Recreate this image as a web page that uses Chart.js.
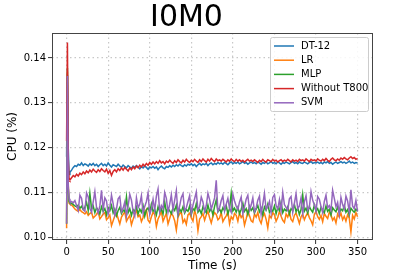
<!DOCTYPE html>
<html>
<head>
<meta charset="utf-8">
<script src="https://cdn.jsdelivr.net/npm/chart.js@4/dist/chart.umd.min.js"></script>
<style>
  html, body { margin: 0; padding: 0; background: #fff; }
  #wrap { width: 415px; height: 277px; }
</style>
</head>
<body>
<div id="wrap"><canvas id="cpuChart" width="415" height="277"></canvas></div>
<script>
// sample times: first five seconds every second, then every 2 s up to 350
const times = [0, 1, 2, 3, 4];
for (let t = 6; t <= 350; t += 2) times.push(t);

const xTicks = [0, 50, 100, 150, 200, 250, 300, 350];
const yTicks = [0.10, 0.11, 0.12, 0.13, 0.14];

const labels = ['DT-12', 'LR', 'MLP', 'Without T800', 'SVM'];
const colors = ['#1f77b4', '#ff7f0e', '#2ca02c', '#d62728', '#9467bd'];

const dt12 = [.1180,.1362,.1200,.1140,.1145,
  .1150,.1156,.1160,.1158,.1163,.1161,.1166,.1160,.1164,.1162,
  .1159,.1164,.1161,.1165,.1160,.1163,.1158,.1162,.1165,.1160,
  .1163,.1159,.1166,.1161,.1157,.1162,.1160,.1158,.1163,.1159,
  .1156,.1161,.1158,.1155,.1160,.1157,.1154,.1159,.1156,.1160,
  .1157,.1153,.1158,.1155,.1159,.1156,.1152,.1157,.1155,.1158,
  .1154,.1157,.1151,.1156,.1159,.1155,.1153,.1158,.1156,.1160,
  .1157,.1161,.1158,.1162,.1159,.1163,.1160,.1158,.1162,.1159,
  .1163,.1161,.1164,.1160,.1163,.1158,.1162,.1165,.1161,.1164,
  .1162,.1165,.1160,.1164,.1166,.1162,.1165,.1163,.1167,.1164,
  .1166,.1163,.1167,.1165,.1162,.1166,.1168,.1164,.1167,.1165,
  .1168,.1164,.1166,.1169,.1165,.1167,.1163,.1166,.1168,.1165,
  .1167,.1164,.1168,.1166,.1163,.1167,.1165,.1168,.1164,.1166,
  .1169,.1165,.1167,.1164,.1168,.1166,.1163,.1167,.1165,.1168,
  .1166,.1164,.1167,.1169,.1165,.1167,.1164,.1168,.1166,.1165,
  .1168,.1166,.1164,.1167,.1169,.1165,.1167,.1166,.1168,.1165,
  .1167,.1164,.1168,.1166,.1169,.1165,.1167,.1163,.1166,.1168,
  .1165,.1167,.1169,.1166,.1168,.1165,.1167,.1170,.1166,.1168,
  .1165,.1167,.1166];

const lr = [.1020,.1370,.1120,.1076,.1074,
  .1072,.1068,.1063,.1060,.1058,.1062,.1057,.1055,.1052,.1057,
  .1049,.1053,.1056,.1043,.1047,.1051,.1058,.1041,.1046,.1052,
  .1055,.1039,.1044,.1050,.1026,.1037,.1048,.1054,.1042,.1030,
  .1045,.1051,.1057,.1036,.1043,.1049,.1028,.1040,.1052,.1060,
  .1046,.1050,.1035,.1044,.1055,.1062,.1038,.1033,.1046,.1056,
  .1051,.1024,.1041,.1049,.1058,.1036,.1045,.1053,.1030,.1042,
  .1054,.1048,.1037,.1016,.1045,.1052,.1057,.1033,.1040,.1029,
  .1050,.1054,.1043,.1036,.1060,.1048,.1015,.1041,.1046,.1053,
  .1038,.1050,.1058,.1044,.1032,.1047,.1055,.1051,.1039,.1043,
  .1056,.1035,.1042,.1048,.1057,.1030,.1046,.1040,.1053,.1049,
  .1036,.1055,.1044,.1050,.1027,.1041,.1058,.1048,.1037,.1034,
  .1052,.1045,.1056,.1039,.1031,.1047,.1053,.1040,.1021,.1049,
  .1043,.1055,.1050,.1036,.1044,.1058,.1047,.1038,.1033,.1052,
  .1045,.1057,.1040,.1035,.1049,.1054,.1043,.1031,.1046,.1052,
  .1039,.1048,.1055,.1044,.1037,.1028,.1051,.1058,.1046,.1040,
  .1049,.1035,.1053,.1047,.1042,.1056,.1050,.1038,.1044,.1032,
  .1052,.1045,.1054,.1039,.1047,.1036,.1050,.1043,.1012,.1049,
  .1041,.1055,.1046];

const mlp = [.1030,.1378,.1110,.1080,.1077,
  .1076,.1073,.1070,.1068,.1072,.1065,.1069,.1062,.1067,.1078,
  .1060,.1098,.1064,.1070,.1055,.1066,.1061,.1052,.1068,.1058,
  .1064,.1050,.1066,.1059,.1071,.1054,.1063,.1048,.1060,.1067,
  .1053,.1061,.1057,.1090,.1055,.1064,.1049,.1062,.1058,.1068,
  .1052,.1063,.1056,.1070,.1047,.1061,.1066,.1055,.1074,.1058,
  .1062,.1050,.1068,.1057,.1063,.1052,.1079,.1056,.1065,.1059,
  .1053,.1066,.1060,.1072,.1049,.1063,.1057,.1068,.1054,.1062,
  .1058,.1070,.1051,.1064,.1060,.1075,.1056,.1062,.1053,.1068,
  .1061,.1055,.1072,.1058,.1064,.1050,.1069,.1083,.1057,.1063,
  .1055,.1066,.1060,.1071,.1052,.1064,.1098,.1059,.1065,.1056,
  .1067,.1053,.1062,.1076,.1058,.1064,.1051,.1069,.1060,.1066,
  .1054,.1063,.1071,.1057,.1065,.1050,.1068,.1061,.1074,.1056,
  .1062,.1058,.1070,.1053,.1066,.1060,.1078,.1055,.1063,.1059,
  .1068,.1052,.1064,.1060,.1073,.1057,.1066,.1051,.1062,.1095,
  .1058,.1065,.1054,.1069,.1061,.1056,.1072,.1059,.1064,.1053,
  .1067,.1060,.1055,.1070,.1058,.1063,.1050,.1066,.1061,.1057,
  .1068,.1054,.1063,.1059,.1071,.1056,.1062,.1049,.1065,.1060,
  .1056,.1063,.1058];

const withoutT800 = [.1215,.1435,.1175,.1132,.1128,
  .1133,.1138,.1135,.1141,.1137,.1143,.1140,.1146,.1142,.1148,
  .1144,.1150,.1146,.1152,.1148,.1145,.1151,.1147,.1153,.1149,
  .1146,.1152,.1143,.1149,.1138,.1147,.1151,.1146,.1153,.1149,
  .1155,.1150,.1156,.1152,.1148,.1155,.1151,.1157,.1153,.1159,
  .1155,.1161,.1157,.1163,.1159,.1165,.1161,.1167,.1163,.1168,
  .1164,.1169,.1165,.1171,.1166,.1169,.1164,.1170,.1167,.1172,
  .1168,.1165,.1171,.1167,.1173,.1169,.1166,.1172,.1168,.1174,
  .1170,.1167,.1172,.1169,.1174,.1170,.1167,.1173,.1169,.1175,
  .1171,.1168,.1174,.1170,.1176,.1172,.1169,.1175,.1171,.1173,
  .1170,.1174,.1171,.1168,.1173,.1170,.1175,.1171,.1169,.1174,
  .1170,.1173,.1169,.1172,.1168,.1171,.1174,.1170,.1172,.1169,
  .1173,.1170,.1167,.1172,.1169,.1174,.1170,.1168,.1173,.1171,
  .1169,.1174,.1170,.1172,.1168,.1171,.1173,.1169,.1172,.1170,
  .1174,.1171,.1168,.1173,.1170,.1172,.1169,.1174,.1171,.1173,
  .1170,.1175,.1172,.1169,.1174,.1171,.1173,.1170,.1175,.1172,
  .1170,.1174,.1171,.1176,.1172,.1169,.1174,.1177,.1173,.1171,
  .1175,.1172,.1177,.1174,.1178,.1175,.1173,.1177,.1180,.1176,
  .1178,.1174,.1176];

const svm = [.1030,.1360,.1115,.1086,.1080,
  .1080,.1077,.1082,.1071,.1060,.1094,.1087,.1062,.1058,.1099,
  .1090,.1064,.1056,.1079,.1102,.1067,.1054,.1070,.1105,.1061,
  .1088,.1081,.1052,.1066,.1094,.1075,.1049,.1063,.1086,.1091,
  .1057,.1065,.1079,.1048,.1070,.1096,.1083,.1058,.1047,.1088,
  .1066,.1074,.1093,.1054,.1069,.1080,.1099,.1051,.1063,.1085,
  .1060,.1092,.1108,.1057,.1071,.1064,.1100,.1087,.1056,.1074,
  .1095,.1061,.1083,.1104,.1052,.1070,.1089,.1097,.1058,.1066,
  .1080,.1093,.1054,.1072,.1086,.1101,.1061,.1068,.1090,.1079,
  .1057,.1071,.1098,.1084,.1063,.1075,.1088,.1127,.1058,.1066,
  .1082,.1093,.1059,.1074,.1087,.1065,.1056,.1096,.1081,.1070,
  .1062,.1079,.1090,.1053,.1068,.1085,.1094,.1060,.1072,.1088,
  .1057,.1066,.1083,.1092,.1051,.1074,.1098,.1062,.1069,.1080,
  .1055,.1089,.1095,.1071,.1063,.1084,.1058,.1100,.1073,.1067,
  .1060,.1086,.1091,.1056,.1076,.1097,.1064,.1070,.1088,.1053,
  .1079,.1093,.1061,.1067,.1102,.1083,.1072,.1058,.1091,.1085,
  .1069,.1055,.1080,.1094,.1066,.1071,.1060,.1105,.1087,.1068,
  .1078,.1052,.1089,.1073,.1063,.1092,.1081,.1057,.1106,.1070,
  .1064,.1082,.1058];

const seriesValues = [dt12, lr, mlp, withoutT800, svm];
// matplotlib draws later series on top
const drawOrder = [4, 3, 2, 1, 0];

const datasets = labels.map((name, i) => ({
  label: name,
  data: seriesValues[i].map((v, k) => ({ x: times[k], y: v })),
  borderColor: colors[i],
  backgroundColor: colors[i],
  borderWidth: 1.5,
  pointRadius: 0,
  tension: 0,
  order: drawOrder[i]
}));

const FONT = 'DejaVu Sans';

// frame round the plot area plus matplotlib style legend box
const framePlugin = {
  id: 'frame',
  afterDatasetsDraw(chart) {
    const { ctx, chartArea: a } = chart;
    ctx.save();
    // legend
    const lx = a.right - 103, ly = a.top + 4, lw = 98, lh = 74, row = 14.2;
    ctx.fillStyle = 'rgba(255,255,255,0.85)';
    ctx.strokeStyle = '#cccccc';
    ctx.lineWidth = 1;
    ctx.beginPath();
    ctx.roundRect(lx + 0.5, ly + 0.5, lw, lh, 2);
    ctx.fill();
    ctx.stroke();
    ctx.font = '10px ' + FONT;
    ctx.textBaseline = 'middle';
    chart.data.datasets.forEach((ds, i) => {
      const yy = ly + 9 + i * row;
      ctx.strokeStyle = ds.borderColor;
      ctx.lineWidth = 1.5;
      ctx.beginPath();
      ctx.moveTo(lx + 4, yy);
      ctx.lineTo(lx + 24, yy);
      ctx.stroke();
      ctx.fillStyle = '#000';
      ctx.fillText(ds.label, lx + 31, yy);
    });
    // frame
    ctx.strokeStyle = '#444';
    ctx.lineWidth = 1;
    ctx.strokeRect(Math.round(a.left) + 0.5, Math.round(a.top) + 0.5,
                   Math.round(a.right - a.left) - 1, Math.round(a.bottom - a.top) - 1);
    ctx.restore();
  }
};

const ctx = document.getElementById('cpuChart').getContext('2d');
const cpuChart = new Chart(ctx, {
  type: 'line',
  data: { datasets: datasets },
  options: {
    responsive: false,
    animation: false,
    layout: { padding: { left: 0, right: 42, top: 0, bottom: 0 } },
    plugins: {
      legend: { display: false },
      tooltip: { enabled: false },
      title: {
        display: true,
        text: 'I0M0',
        color: '#000',
        font: { family: FONT, size: 30, weight: 'normal', lineHeight: 1.0 },
        padding: { top: 3, bottom: 0 }
      }
    },
    scales: {
      x: {
        type: 'linear',
        min: -17.55,
        max: 368.55,
        afterFit(scale) { scale.height = 37; },
        afterBuildTicks(scale) { scale.ticks = xTicks.map(v => ({ value: v })); },
        grid: {
          color: '#c8c8c8',
          lineWidth: 1.2,
          drawTicks: true,
          tickLength: 4,
          tickColor: '#333',
          tickWidth: 1,
          tickBorderDash: []
        },
        border: { display: false, dash: [1.5, 3] },
        ticks: {
          color: '#000',
          font: { family: FONT, size: 10 },
          padding: 2,
          maxRotation: 0,
          callback: v => String(v)
        },
        title: {
          display: true,
          text: 'Time (s)',
          color: '#000',
          font: { family: FONT, size: 12 },
          padding: { top: 0, bottom: 4 }
        }
      },
      y: {
        min: 0.0994,
        max: 0.1456,
        afterFit(scale) { scale.width = 52; },
        afterBuildTicks(scale) { scale.ticks = yTicks.map(v => ({ value: v })); },
        grid: {
          color: '#c8c8c8',
          lineWidth: 1.2,
          drawTicks: true,
          tickLength: 4,
          tickColor: '#333',
          tickWidth: 1,
          tickBorderDash: []
        },
        border: { display: false, dash: [1.5, 3] },
        ticks: {
          color: '#000',
          font: { family: FONT, size: 10 },
          padding: 2,
          callback: v => v.toFixed(2)
        },
        title: {
          display: true,
          text: 'CPU (%)',
          color: '#000',
          font: { family: FONT, size: 12 },
          padding: { top: 6, bottom: 0 }
        }
      }
    }
  },
  plugins: [framePlugin]
});
</script>
</body>
</html>
